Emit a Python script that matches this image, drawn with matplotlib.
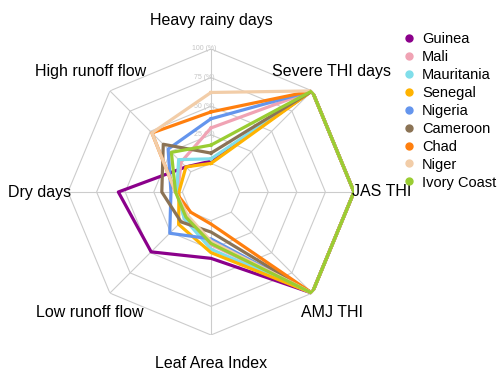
import numpy as np
import matplotlib
matplotlib.use("Agg")
import matplotlib.pyplot as plt
from matplotlib.lines import Line2D
import matplotlib.transforms as mtransforms

plt.rcParams['font.family'] = ['Liberation Sans', 'DejaVu Sans']

categories = ["Heavy rainy days", "Severe THI days", "JAS THI", "AMJ THI",
              "Leaf Area Index", "Low runoff flow", "Dry days", "High runoff flow"]
countries = ["Guinea", "Mali", "Mauritania", "Senegal", "Nigeria",
             "Cameroon", "Chad", "Niger", "Ivory Coast"]
guinea = [2, 100, 100, 100, 33, 49, 56, 6]
mali = [31, 100, 100, 100, 21, 8, 4, 12]
mauritania = [4, 100, 100, 100, 25, 8, 5, 15]
senegal = [0, 100, 100, 100, 28, 15, 3, 6]
nigeria = [39, 100, 100, 100, 16, 26, 10, 28]
cameroon = [9, 100, 100, 100, 10, 12, 18, 34]
chad = [45, 100, 100, 100, 3, 0, 6, 48]
niger = [62, 100, 100, 100, 18, 4, 6, 48]
ivory_coast = [16, 100, 100, 100, 20, 6, 6, 24]
grid_levels = [0, 25, 50, 75, 100]
tick_labels = ["25 (%)", "50 (%)", "75 (%)", "100 (%)"]

series = [guinea, mali, mauritania, senegal, nigeria, cameroon, chad, niger, ivory_coast]
colors = ["#8B008B", "#F0A3B4", "#80DEEA", "#FFB300", "#6495ED",
          "#8B7355", "#FF7F0E", "#F2CDA8", "#9ACD32"]

n = len(categories)
angles = np.arange(n) * 2 * np.pi / n
closed = np.append(angles, angles[0])

fig = plt.figure(figsize=(4.99, 3.70), dpi=100)
ax = fig.add_axes([68 / 499, 35 / 370, 286 / 499, 286 / 370], projection='polar')
ax.set_theta_offset(np.pi / 2)
ax.set_theta_direction(-1)
ax.set_ylim(-25, 100)
ax.grid(False)
ax.set_xticks([])
ax.set_yticks([])
ax.spines['polar'].set_visible(False)
ax.patch.set_visible(False)

# octagon grid + spokes
for lv in grid_levels:
    ax.plot(closed, [lv] * (n + 1), color="#CCCCCC", lw=0.8, zorder=1)
for a in angles:
    ax.plot([a, a], [0, 100], color="#CCCCCC", lw=0.8, zorder=1)

# ring labels on the top spoke
off = mtransforms.offset_copy(ax.transData, fig=fig, x=-7, y=0, units='dots')
for lv, lab in zip(grid_levels[1:], tick_labels):
    ax.text(0, lv, lab, transform=off, ha='center', va='center',
            fontsize=5, color="#C4C4C4", zorder=2)

for vals, col in zip(series, colors):
    ax.plot(closed, vals + vals[:1], color=col, lw=2.3, zorder=3)

for a, lab in zip(angles, categories):
    ax.text(a, 124.5, lab, ha='center', va='center', fontsize=11.5, clip_on=False)

handles = [Line2D([], [], marker='o', ls='none', color=c, markersize=5) for c in colors]
fig.legend(handles, countries, loc='upper left', bbox_to_anchor=(401.7 / 499, 1 - 32 / 370),
           frameon=False, fontsize=10.5, handlelength=1.0, handletextpad=0.4,
           labelspacing=0.27, borderpad=0, borderaxespad=0)

fig.savefig("out.png", dpi=100)
